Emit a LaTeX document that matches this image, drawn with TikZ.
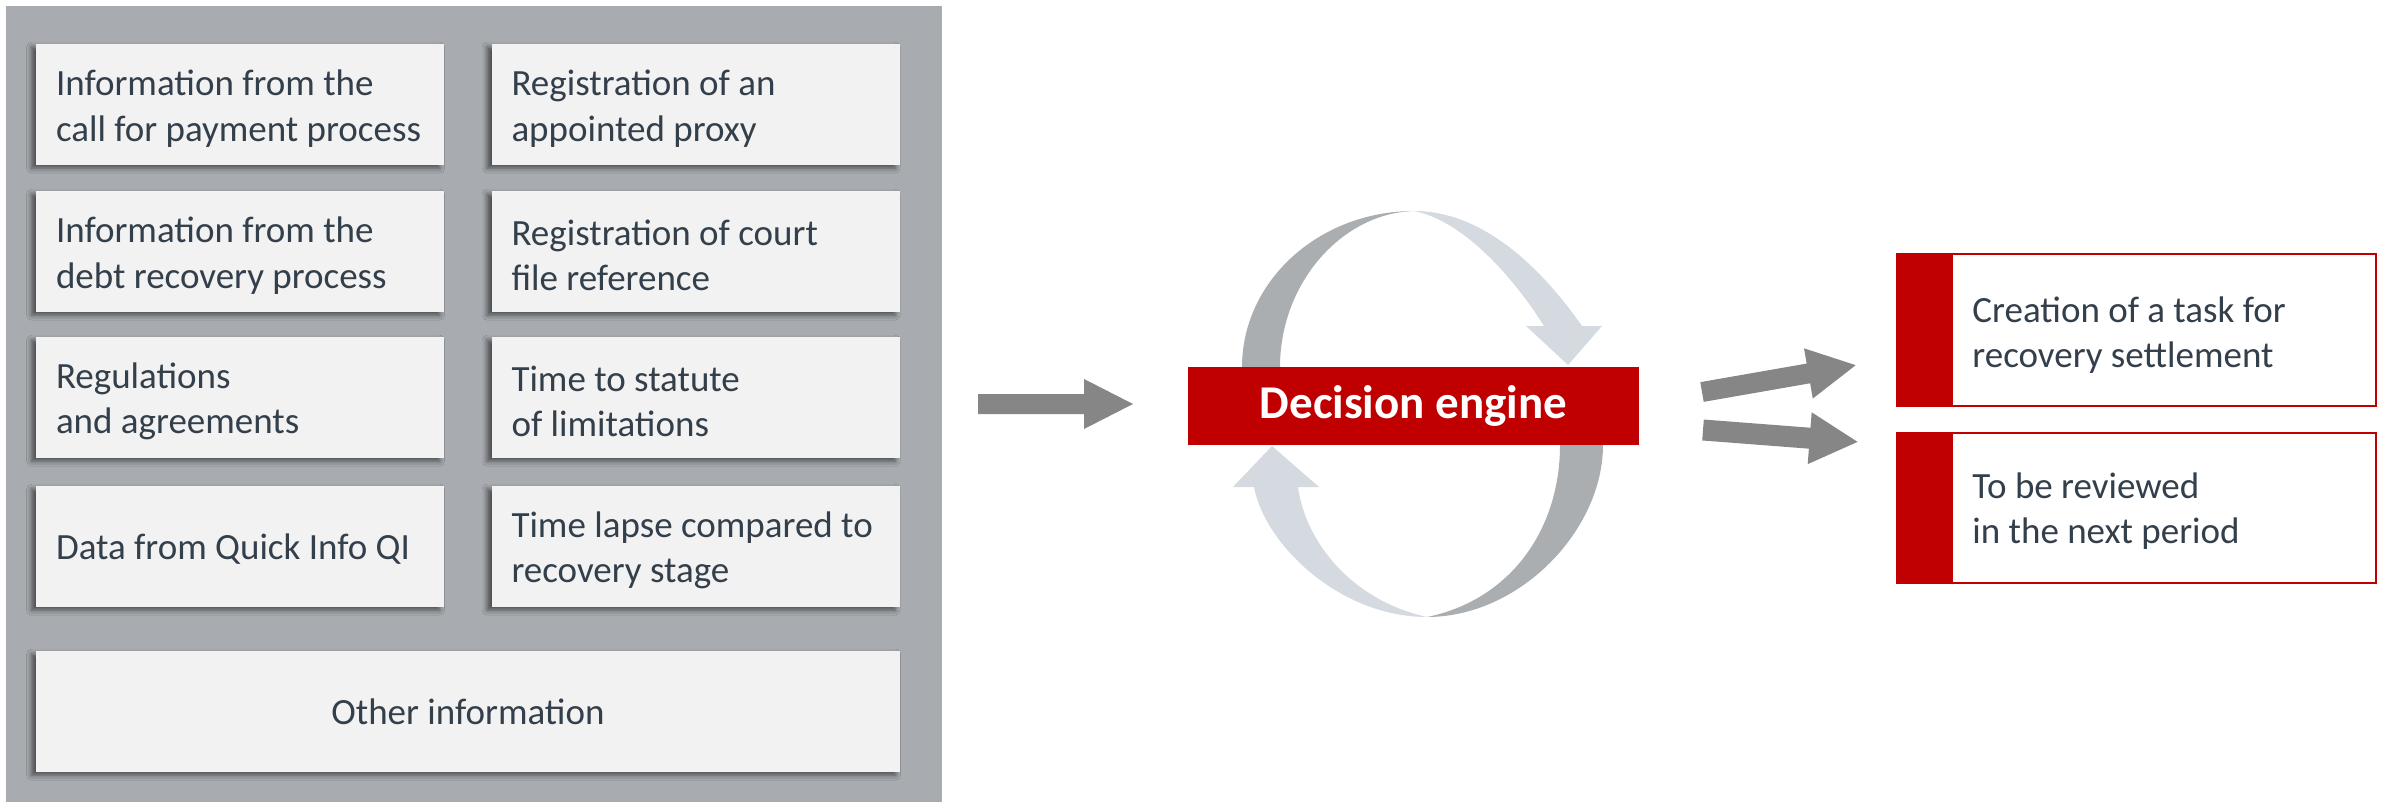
\documentclass[tikz,border=0pt]{standalone}
\usepackage{fontspec}
\setmainfont{Carlito}
\usetikzlibrary{shadows.blur}

\definecolor{panelgray}{HTML}{A8ACB0}
\definecolor{boxfill}{HTML}{F2F2F2}
\definecolor{inktext}{HTML}{333F4A}
\definecolor{brandred}{HTML}{C00000}
\definecolor{arrowgray}{HTML}{868686}
\definecolor{ringdark}{HTML}{AAAEB1}
\definecolor{ringlight}{HTML}{D4DAE0}

\newcommand\bodyfont{\fontsize{18.5pt}{22.7pt}\selectfont}

\tikzset{
  x=0.5pt, y=-0.5pt,
  % block arrow: length / shaft width / head width / head length
  pics/blockarrow/.style args={#1/#2/#3/#4}{code={
    \fill[arrowgray] (0,-#2/2) -- ({#1-#4},-#2/2) -- ({#1-#4},-#3/2) -- (#1,0)
      -- ({#1-#4},#3/2) -- ({#1-#4},#2/2) -- (0,#2/2) -- cycle;
  }},
  infobox/.style={fill=boxfill, minimum width=204pt, minimum height=60.5pt,
    inner sep=0pt,
    blur shadow={shadow xshift=-2.2pt, shadow yshift=-1.6pt,
                 shadow blur radius=2.5pt, shadow opacity=55}},
  widebox/.style={infobox, minimum width=432pt, font=\bodyfont, text=inktext},
  infotext/.style={anchor=west, align=left, inner sep=0pt,
    font=\bodyfont, text=inktext},
  outbox/.style={draw=brandred, line width=0.9pt, fill=white,
    minimum width=239.5pt, inner sep=0pt},
}

\begin{document}
\begin{tikzpicture}
\useasboundingbox (0,0) rectangle (2382,802);

% input panel
\fill[panelgray] (6,6) rectangle (942,802);

\node[infobox] (callpay)  at (240,104.5)   {};
\node[infobox] (proxy)    at (695.5,104.5) {};
\node[infobox] (debtrec)  at (240,251.5)   {};
\node[infobox] (court)    at (695.5,251.5) {};
\node[infobox] (regs)     at (240,397.5)   {};
\node[infobox] (statute)  at (695.5,397.5) {};
\node[infobox] (quick)    at (240,546.5)   {};
\node[infobox] (lapse)    at (695.5,546.5) {};
\node[widebox] (other)    at (468,711.5)   {\raisebox{-0.7pt}{Other information}};

\node[infotext] at ([xshift=10pt,yshift=-2pt]callpay.west) {Information from the\\call for payment process};
\node[infotext] at ([xshift=10pt,yshift=-2pt]proxy.west)   {Registration of an\\appointed proxy};
\node[infotext] at ([xshift=10pt,yshift=-2pt]debtrec.west) {Information from the\\debt recovery process};
\node[infotext] at ([xshift=10pt,yshift=-2pt]court.west)   {Registration of court\\file reference};
\node[infotext] at ([xshift=10pt,yshift=-2pt]regs.west)    {Regulations\\and agreements};
\node[infotext] at ([xshift=10pt,yshift=-2pt]statute.west) {Time to statute\\of limitations};
\node[infotext] at ([xshift=10pt,yshift=-1.5pt]quick.west) {Data from Quick Info QI};
\node[infotext] at ([xshift=10pt,yshift=-2pt]lapse.west)   {Time lapse compared to\\recovery stage};

% arrow into the engine
\pic at (978,404) {blockarrow=155/20/50/49};

% cycle around the engine
\fill[ringdark] (1242,367) .. controls (1242,281) and (1319,211) .. (1414,211)
  .. controls (1342,213) and (1280,283) .. (1280,367) -- cycle;
\fill[ringlight] (1414,211) .. controls (1493,211) and (1553,285) .. (1582,326)
  -- (1602,326) -- (1568,365) -- (1526,326) -- (1544,326)
  .. controls (1523,292) and (1470,222) .. (1414,211) -- cycle;
\fill[ringlight] (1272,446) -- (1319,487) -- (1298,487)
  .. controls (1305,540) and (1350,600) .. (1427,617)
  .. controls (1340,617) and (1265,545) .. (1254,487) -- (1233,487) -- cycle;
\fill[ringdark] (1427,617) .. controls (1520,617) and (1603,530) .. (1603,445)
  -- (1560,445) .. controls (1560,530) and (1510,600) .. (1427,617) -- cycle;

\node[fill=brandred, minimum width=225.5pt, minimum height=39pt, inner sep=0pt,
      text=white, font=\fontsize{23.5pt}{28pt}\selectfont\bfseries]
      (engine) at (1413.5,406) {Decision engine};

% arrows to the outcomes
\pic[rotate=9.9] at (1702,392) {blockarrow=156/20/51/48};
\pic[rotate=-4.4] at (1703,430) {blockarrow=155/21/52/48};

% outcomes
\node[outbox, minimum height=76pt] (task) at (2136.5,330) {};
\fill[brandred] (task.north west) rectangle ([xshift=28.5pt]task.south west);
\node[infotext] (tasktext) at (1972,335) {Creation of a task for\\recovery settlement};

\node[outbox, minimum height=75pt] (review) at (2136.5,508) {};
\fill[brandred] (review.north west) rectangle ([xshift=28.5pt]review.south west);
\node[infotext] (reviewtext) at (1972,511) {To be reviewed\\in the next period};
\end{tikzpicture}
\end{document}
